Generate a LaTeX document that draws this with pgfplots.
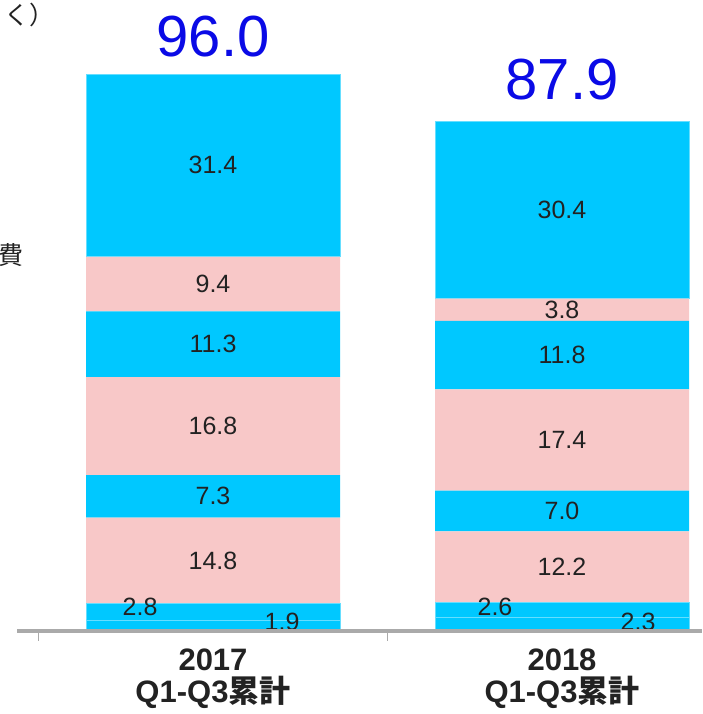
\documentclass[border=0pt]{standalone}
\usepackage{pgfplots}
\pgfplotsset{compat=1.18}
\usepackage{fontspec}
\setmainfont{Liberation Sans}
\newfontfamily\cjk{Noto Sans CJK JP}
\definecolor{segblue}{RGB}{0,200,255}
\definecolor{segpink}{RGB}{248,200,200}
\definecolor{topblue}{RGB}{10,10,230}
\definecolor{txtc}{RGB}{34,34,34}
\definecolor{axgray}{RGB}{170,170,170}
\tikzset{
  seglab/.style={font=\fontsize{25}{30}\selectfont, text=txtc},
  totlab/.style={font=\fontsize{58}{60}\selectfont, text=topblue},
  catlab/.style={font=\fontsize{31}{34}\selectfont\bfseries, text=txtc, inner sep=0pt},
}
\begin{document}
\begin{tikzpicture}
\begin{axis}[
  at={(17pt,83pt)}, anchor=south west,
  scale only axis, width=685pt, height=631pt,
  xmin=-0.5616, xmax=1.4011, ymin=0, ymax=108.42,
  hide axis, clip=false,
  ybar stacked, bar width=254pt,
]
\addplot[fill=segblue, draw=segblue!60!white, line width=0.6pt] coordinates {(0,1.9) (1,2.3)};
\addplot[fill=segblue, draw=segblue!60!white, line width=0.6pt] coordinates {(0,2.8) (1,2.6)};
\addplot[fill=segpink, draw=none] coordinates {(0,14.8) (1,12.2)};
\addplot[fill=segblue, draw=none] coordinates {(0,7.3) (1,7.0)};
\addplot[fill=segpink, draw=none] coordinates {(0,16.8) (1,17.4)};
\addplot[fill=segblue, draw=none] coordinates {(0,11.3) (1,11.8)};
\addplot[fill=segpink, draw=none] coordinates {(0,9.4) (1,3.8)};
\addplot[fill=segblue, draw=segblue!60!white, line width=0.6pt] coordinates {(0,31.4) (1,30.4)};
\coordinate (a1) at (axis cs:0,80.0);
\coordinate (a2) at (axis cs:0,59.6);
\coordinate (a3) at (axis cs:0,49.25);
\coordinate (a4) at (axis cs:0,35.2);
\coordinate (a5) at (axis cs:0,23.15);
\coordinate (a6) at (axis cs:0,12.1);
\coordinate (a7) at (axis cs:-0.209,4.1);
\coordinate (a8) at (axis cs:0.198,1.5);
\coordinate (b1) at (axis cs:1,72.3);
\coordinate (b2) at (axis cs:1,55.2);
\coordinate (b3) at (axis cs:1,47.4);
\coordinate (b4) at (axis cs:1,32.8);
\coordinate (b5) at (axis cs:1,20.6);
\coordinate (b6) at (axis cs:1,11.0);
\coordinate (b7) at (axis cs:0.808,4.1);
\coordinate (b8) at (axis cs:1.218,1.6);
\coordinate (ta) at (axis cs:0,102.06);
\coordinate (tb) at (axis cs:1,94.67);
\coordinate (l0) at (axis cs:-0.5616,0);
\coordinate (l1) at (axis cs:1.4011,0);
\coordinate (k0) at (axis cs:-0.5,0);
\coordinate (k1) at (axis cs:0.5,0);
\coordinate (ca1) at (axis cs:0,-4.98);
\coordinate (ca2) at (axis cs:0,-10.48);
\coordinate (cb1) at (axis cs:1,-4.98);
\coordinate (cb2) at (axis cs:1,-10.48);
\end{axis}
\node[seglab] at (a1) {31.4};
\node[seglab] at (a2) {9.4};
\node[seglab] at (a3) {11.3};
\node[seglab] at (a4) {16.8};
\node[seglab] at (a5) {7.3};
\node[seglab] at (a6) {14.8};
\node[seglab] at (a7) {2.8};
\node[seglab] at (a8) {1.9};
\node[seglab] at (b1) {30.4};
\node[seglab] at (b2) {3.8};
\node[seglab] at (b3) {11.8};
\node[seglab] at (b4) {17.4};
\node[seglab] at (b5) {7.0};
\node[seglab] at (b6) {12.2};
\node[seglab] at (b7) {2.6};
\node[seglab] at (b8) {2.3};
\node[totlab] at (ta) {96.0};
\node[totlab] at (tb) {87.9};
\draw[axgray, line width=4pt] (l0) -- (l1);
\draw[axgray, line width=1.5pt] (k0) -- ++(0pt,-10pt);
\draw[axgray, line width=1.5pt] (k1) -- ++(0pt,-10pt);
\node[catlab] at (ca1) {2017};
\node[catlab] at (ca2) {Q1-Q3{\cjk 累計}};
\node[catlab] at (cb1) {2018};
\node[catlab] at (cb2) {Q1-Q3{\cjk 累計}};
\node[anchor=east, font=\fontsize{25}{30}\selectfont\cjk, text=txtc, inner sep=0pt] at (55pt,699pt) {く）};
\node[anchor=east, font=\fontsize{25}{30}\selectfont\cjk, text=txtc, inner sep=0pt] at (24pt,459pt) {費};
\pgfresetboundingbox
\useasboundingbox (0,0) rectangle (702pt,714pt);
\end{tikzpicture}
\end{document}
